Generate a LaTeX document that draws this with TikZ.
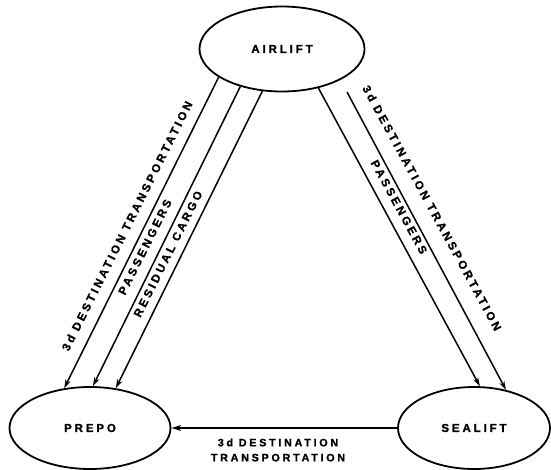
\documentclass[tikz,border=0pt]{standalone}
\usepackage{fontspec}
\setmainfont{Liberation Sans}[BoldFeatures={FakeBold=1.2}]
\usetikzlibrary{arrows.meta,shapes.geometric}
\newcommand{\lbl}{\fontsize{11.5}{13}\bfseries\addfontfeature{LetterSpace=25}}
\newcommand{\lblsmall}{\fontsize{10.8}{15}\bfseries\addfontfeature{LetterSpace=25}}
\tikzset{
  place/.style={draw, ellipse, line width=1.8pt, inner sep=0pt, font=\lbl},
  flow/.style={line width=1.5pt, -{Stealth[length=9pt,width=5.5pt]}},
  tag/.style={font=\lbl, inner sep=1pt}
}
\begin{document}
\begin{tikzpicture}[x=1pt,y=-1pt]
\useasboundingbox (0,0) rectangle (551,470);
\node[place, minimum width=165pt, minimum height=85pt] (air) at (282,49) {AIRLIFT};
\node[place, minimum width=161pt, minimum height=82pt] (prepo) at (90,428) {PREPO};
\node[place, minimum width=152pt, minimum height=82pt] (sea) at (474,428) {SEALIFT};
\coordinate (r2s) at (347,92);
% airlift -> prepo
\draw[flow] (air.204) -- (prepo.123);
\draw[flow] (air.222) -- (prepo.86);
\draw[flow] (air.245) -- (prepo.57);
% airlift -> sealift
\draw[flow] (air.313) -- (sea.82);
\draw[flow] (r2s) -- (sea.50);
% sealift -> prepo
\draw[line width=2.2pt, -{Stealth[length=10pt,width=6pt]}] (sea.west) -- (prepo.east);
% labels
\node[tag, rotate=63.4] (t1) at (127,226) {3d DESTINATION TRANSPORTATION};
\node[tag, rotate=63.4] (t2) at (145,247) {PASSENGERS};
\node[tag, rotate=63.4] (t3) at (168,254) {RESIDUAL CARGO};
\node[tag, rotate=-61.4] (t4) at (432,208) {3d DESTINATION TRANSPORTATION};
\node[tag, rotate=-61.4] (t5) at (399,207) {PASSENGERS};
\node[tag, align=center, font=\lblsmall] (t6) at (278,450) {3d DESTINATION\\TRANSPORTATION};
\end{tikzpicture}
\end{document}
